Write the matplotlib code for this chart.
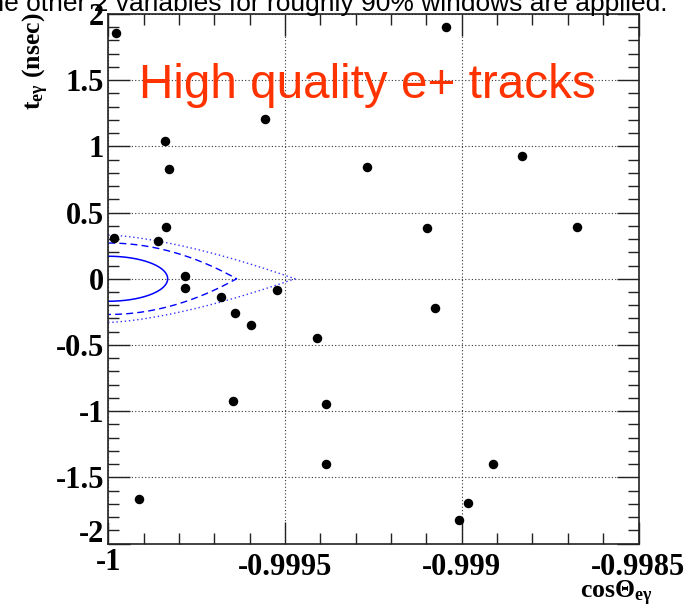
import numpy as np
import matplotlib
matplotlib.use("Agg")
import matplotlib.pyplot as plt
from matplotlib.ticker import FixedLocator, MultipleLocator
from matplotlib.transforms import ScaledTranslation

plt.rcParams["axes.unicode_minus"] = False
plt.rcParams["mathtext.fontset"] = "custom"
plt.rcParams["mathtext.rm"] = "Liberation Serif:bold"
plt.rcParams["mathtext.it"] = "Liberation Serif:bold"
plt.rcParams["mathtext.bf"] = "Liberation Serif:bold"

# Candidate events: opening-angle cosine and relative timing (ns)
cos_theta = [-0.999979, -0.999044, -0.999557, -0.999840, -0.998829, -0.999827,
             -0.999269, -0.999837, -0.999984, -0.999860, -0.999097, -0.998673,
             -0.999784, -0.999784, -0.999523, -0.999682, -0.999641, -0.999597,
             -0.999075, -0.999409, -0.999647, -0.999385, -0.999912, -0.999385,
             -0.998913, -0.998983, -0.999007]
t_egamma = [1.858, 1.901, 1.204, 1.040, 0.924, 0.829,
            0.846, 0.390, 0.305, 0.287, 0.383, 0.390,
            0.023, -0.070, -0.088, -0.140, -0.261, -0.352,
            -0.219, -0.446, -0.926, -0.946, -1.666, -1.397,
            -1.397, -1.694, -1.825]

# Signal-region contours: reach in (1 + cos), half-width in t, shape exponents
contour_reach = [0.168e-3, 0.363e-3, 0.528e-3]
contour_halfwidth = [0.17, 0.27, 0.33]
contour_exp_t = [2.0, 1.0, 1.0]
contour_exp_c = [2.0, 2.0, 1.5]
contour_styles = ["-", "--", ":"]

x_ticks = [-1.0, -0.9995, -0.999, -0.9985]
x_ticklabels = ["-1", "-0.9995", "-0.999", "-0.9985"]
y_ticks = [-2, -1.5, -1, -0.5, 0, 0.5, 1, 1.5, 2]
y_ticklabels = ["-2", "-1.5", "-1", "-0.5", "0", "0.5", "1", "1.5", "2"]

W, H = 684, 611
fig = plt.figure(figsize=(W / 100, H / 100), dpi=100)
ax = fig.add_axes([108.3 / W, 1 - 543.5 / H, (638.5 - 108.3) / W, (543.5 - 14) / H])

ax.set_xlim(-1.0, -0.9985)
ax.set_ylim(-2, 2)

# grid
ax.xaxis.set_major_locator(FixedLocator(x_ticks))
ax.xaxis.set_minor_locator(MultipleLocator(0.0001))
ax.yaxis.set_major_locator(FixedLocator(y_ticks))
ax.yaxis.set_minor_locator(MultipleLocator(0.1))
ax.grid(True, which="major", linestyle=(0, (1, 2)), color="#333333", linewidth=0.8)
ax.set_axisbelow(True)

# contours
u = np.linspace(0, 1, 300)
for a, h, m, n, ls in zip(contour_reach, contour_halfwidth, contour_exp_t,
                          contour_exp_c, contour_styles):
    yy = h * np.clip(1 - u ** n, 0, None) ** (1.0 / m)
    xs = np.concatenate([-1 + a * u, (-1 + a * u)[::-1]])
    ys = np.concatenate([yy, -yy[::-1]])
    if ls == "--":
        ax.plot(xs, ys, color="#0000ff", lw=1.0, dashes=(5, 3))
    elif ls == ":":
        ax.plot(xs, ys, color="#3333ff", lw=1.0, dashes=(1, 2))
    else:
        ax.plot(xs, ys, color="#0000ff", lw=1.1)

# events
ax.scatter(cos_theta, t_egamma, s=34, color="black", zorder=5, clip_on=False)

# axes styling
for sp in ax.spines.values():
    sp.set_linewidth(1.2)
    sp.set_color("#222222")
ax.tick_params(which="both", direction="in", top=True, right=True, color="#222222")
ax.tick_params(which="major", length=16, width=1.0)
ax.tick_params(which="minor", length=8, width=1.0)
ax.tick_params(axis="x", which="major", pad=7)
ax.tick_params(axis="y", which="major", pad=3)

tick_font = dict(family="Liberation Serif", weight="bold", size=22)
ax.set_xticklabels(x_ticklabels, **tick_font)
ax.set_yticklabels(y_ticklabels, **tick_font)

lbl = ax.get_yticklabels()[0]
lbl.set_transform(lbl.get_transform() + ScaledTranslation(0, 12 / 100, fig.dpi_scale_trans))
lbl = ax.get_xticklabels()[0]
lbl.set_transform(lbl.get_transform() + ScaledTranslation(0, 5 / 100, fig.dpi_scale_trans))

title_font = dict(family="Liberation Serif", weight="bold", size=18.5)
fig.text(36 / W, 1 - 13 / H, r"t$_{eγ}$ (nsec)", rotation=90, ha="center", va="top",
         **title_font)
fig.text(653 / W, 1 - 598 / H, r"cosΘ$_{eγ}$", ha="right", va="baseline", **title_font)

fig.text(139 / W, 1 - 98.3 / H, "High quality e+ tracks", color="#ff3300",
         family="Liberation Sans", size=34.3, ha="left", va="baseline")

fig.text(668 / W, 1 - 11 / H, "the other 2 variables for roughly 90% windows are applied.",
         family="Liberation Sans", size=19, ha="right", va="baseline", color="black")

fig.savefig("out.png", dpi=100)
